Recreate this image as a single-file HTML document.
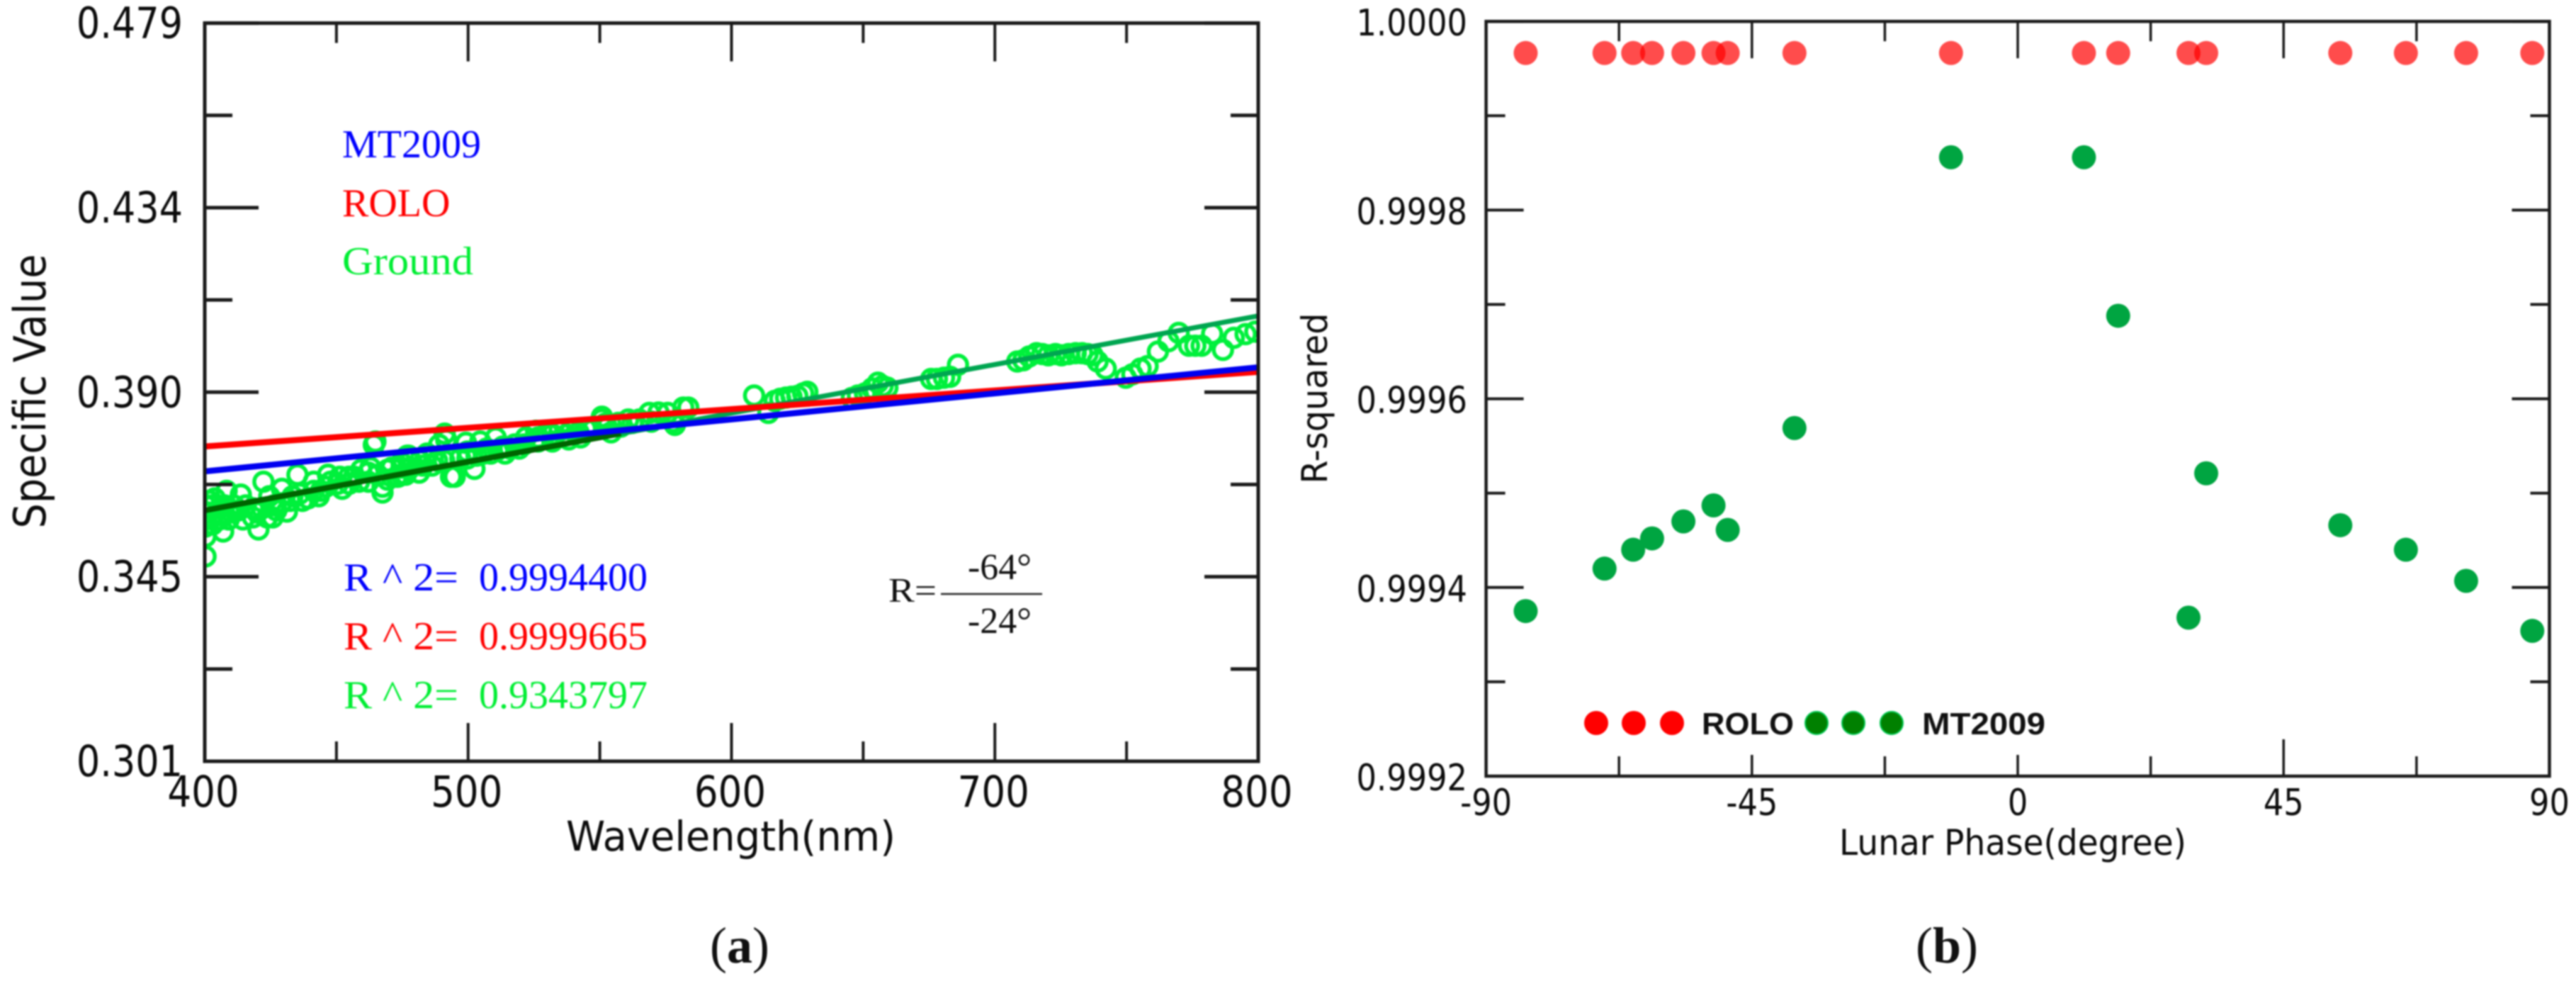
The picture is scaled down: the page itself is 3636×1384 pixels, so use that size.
<!DOCTYPE html>
<html lang="en">
<head>
<meta charset="utf-8">
<title>Specific value and R-squared charts</title>
<style>
html,body{margin:0;padding:0;background:#fff;width:3636px;height:1384px;overflow:hidden}
svg{display:block;filter:blur(1px)}
.sans{font-family:"DejaVu Sans","Liberation Sans",sans-serif;fill:#0c0c0c}
.serif{font-family:"Liberation Serif",serif}
</style>
</head>
<body>
<svg id="chart" xmlns="http://www.w3.org/2000/svg" width="3636" height="1384" viewBox="0 0 3636 1384">
  <defs>
    <clipPath id="plot-a-clip"><rect x="289" y="32" width="1488" height="1042"/></clipPath>
  </defs>
  <rect width="3636" height="1384" fill="#fff"/>

  <g id="panel-a">
    <g id="a-scatter" clip-path="url(#plot-a-clip)"></g>
    <g id="a-lines" clip-path="url(#plot-a-clip)"></g>
    <g id="a-axes"></g>
    <text class="sans" x="0" y="0" transform="translate(64,552) rotate(-90)" text-anchor="middle" font-size="62" textLength="387" lengthAdjust="spacingAndGlyphs">Specific Value</text>
    <text class="sans" x="799" y="1200" font-size="58" textLength="465" lengthAdjust="spacingAndGlyphs">Wavelength(nm)</text>

    <text class="serif" x="483" y="222" font-size="56" fill="#0000ff">MT2009</text>
    <text class="serif" x="483" y="305" font-size="56" fill="#ff0000">ROLO</text>
    <text class="serif" x="483" y="387" font-size="56" fill="#00ee33" textLength="185" lengthAdjust="spacingAndGlyphs">Ground</text>

    <text class="serif" x="485" y="833" font-size="56" fill="#0000ff" textLength="162" lengthAdjust="spacingAndGlyphs">R ^ 2=</text>
    <text class="serif" x="676" y="833" font-size="56" fill="#0000ff">0.9994400</text>
    <text class="serif" x="485" y="916" font-size="56" fill="#ff0000" textLength="162" lengthAdjust="spacingAndGlyphs">R ^ 2=</text>
    <text class="serif" x="676" y="916" font-size="56" fill="#ff0000">0.9999665</text>
    <text class="serif" x="485" y="999" font-size="56" fill="#00ee33" textLength="162" lengthAdjust="spacingAndGlyphs">R ^ 2=</text>
    <text class="serif" x="676" y="999" font-size="56" fill="#00ee33">0.9343797</text>

    <g>
      <text class="serif" x="1254" y="849" font-size="49" fill="#111" textLength="68" lengthAdjust="spacingAndGlyphs">R=</text>
      <text class="serif" x="1366" y="817" font-size="52" fill="#111" textLength="90" lengthAdjust="spacingAndGlyphs">-64°</text>
      <line x1="1328" x2="1471" y1="838" y2="838" stroke="#222" stroke-width="2.5"/>
      <text class="serif" x="1366" y="893" font-size="52" fill="#111" textLength="90" lengthAdjust="spacingAndGlyphs">-24°</text>
    </g>
    <text class="serif" x="1002" y="1358" font-size="72" fill="#111">(<tspan font-weight="bold">a</tspan>)</text>
  </g>

  <g id="panel-b">
    <g id="b-points"></g>
    <g id="b-axes"></g>
    <text class="sans" x="0" y="0" transform="translate(1873,562) rotate(-90)" text-anchor="middle" font-size="50" textLength="241" lengthAdjust="spacingAndGlyphs">R-squared</text>
    <text class="sans" x="2596" y="1206" font-size="50" textLength="490" lengthAdjust="spacingAndGlyphs">Lunar Phase(degree)</text>
    <g>
      <circle cx="2253" cy="1020" r="17" fill="#ff0000"/>
      <circle cx="2306" cy="1020" r="17" fill="#ff0000"/>
      <circle cx="2360" cy="1020" r="17" fill="#ff0000"/>
      <text x="2402" y="1036" font-family="'Liberation Sans',sans-serif" font-weight="bold" font-size="44" fill="#111" textLength="130" lengthAdjust="spacingAndGlyphs">ROLO</text>
      <circle cx="2564" cy="1020" r="16" fill="#008000" stroke="#00c850" stroke-width="2"/>
      <circle cx="2616" cy="1020" r="16" fill="#008000" stroke="#00c850" stroke-width="2"/>
      <circle cx="2670" cy="1020" r="16" fill="#008000" stroke="#00c850" stroke-width="2"/>
      <text x="2713" y="1036" font-family="'Liberation Sans',sans-serif" font-weight="bold" font-size="44" fill="#111" textLength="174" lengthAdjust="spacingAndGlyphs">MT2009</text>
    </g>
    <text class="serif" x="2704" y="1358" font-size="72" fill="#111">(<tspan font-weight="bold">b</tspan>)</text>
  </g>
</svg>

<script>
// Panel (a) data
var aXMajorTicks = [400, 500, 600, 700, 800];
var aXMinorTicks = [450, 550, 650, 750];
var aYMajorTicks = [0.301, 0.3455, 0.390, 0.4345, 0.479];
var aYMinorTicks = [0.32325, 0.36775, 0.41225, 0.45675];
var aYTickLabels = ["0.301", "0.345", "0.390", "0.434", "0.479"];
var aXTickLabels = ["400", "500", "600", "700", "800"];
var fitWavelengths = [400, 800];
var rolosFit = [0.3769, 0.3949];
var mt2009Fit = [0.3709, 0.3960];
var groundFit = [0.3615, 0.4084];
var groundDarkEnd = 558;
var groundWavelengths = [
400.3,400.3,401,401,403,401.6,405.6,409.1,405.6,411,403.8,407.5,415.6,414.5,421.8,426.3,423.7,432.5,436,441.4,
441.4,447.8,451.3,456.7,459.4,462.9,469.4,471,474.7,424.5,464.8,464.2,422.3,435.2,429.3,408.3,413.7,407,420.4,418.3,
425.8,431.2,439.2,444.1,452.2,467.5,467.5,446.8,454.8,462.1,472.8,477.4,
403,403,406.5,410.2,412.9,418.3,419.9,427.2,429,433.3,437.1,443.3,446,450.5,454.8,458.6,462.1,465.6,469.4,474.7,476.3,
400.3,400.3,400.3,
478.2,478.2,482.8,488.2,493.5,499.7,505.9,511.3,515.9,521.2,526.6,532,537.4,541.9,547.3,
491.1,489,491.7,499.2,504.6,510.5,494.9,493.5,502.4,481.4,476.9,473.4,514,486.3,497,503.2,508.6,517.7,
522,525.8,530.1,534.7,538.2,539.2,544.6,542.7,550.8,552.7,519.4,526.6,532,474.7,481.7,484.4,490.9,499.7,507,513.2,
550.8,554.3,552,557,560.8,565,568.8,572.3,575.8,578.5,581.7,583.6,577.7,569.6,562.4,558,
608.6,614,616.4,618.5,620.7,622.8,625,627.2,628.8,
645.7,648,650.7,653.4,655.6,657.4,659.2,675.8,678,680.7,683,686,708.5,
710.8,713,715.8,718,720.3,723,725.3,728,730.7,733.1,735.2,737.1,739,742.1,749.7,752.2,755.3,758,761.9,765.9,769.8,
773.7,776.1,778.5,782.5,786.6,790.7,795.2,798.9
];
var groundValues = [
.3504,.3552,.3581,.3610,.3627,.3638,.3593,.3593,.3620,.3627,.3644,.3627,.3627,.3593,.3620,.3627,.3598,.3638,.3655,.3662,
.3684,.3684,.3696,.3696,.3713,.3718,.3689,.3718,.3701,.3649,.3781,.3773,.3684,.3701,.3667,.3662,.3653,.3564,.3569,.3598,
.3598,.3612,.3644,.3662,.3667,.3658,.3672,.3701,.3696,.3706,.3696,.3747,
.3598,.3581,.3603,.3610,.3615,.3620,.3610,.3615,.3632,.3649,.3638,.3649,.3672,.3679,.3679,.3684,.3684,.3701,.3713,.3718,.3701,
.3627,.3593,.3576,
.3735,.3718,.3723,.3735,.3740,.3740,.3752,.3761,.3764,.3774,.3791,.3798,.3798,.3803,.3809,
.3800,.3773,.3785,.3778,.3781,.3790,.3696,.3696,.3715,.3706,.3747,.3696,.3752,.3723,.3740,.3747,.3752,.3774,
.3791,.3807,.3803,.3807,.3786,.3809,.3812,.3791,.3841,.3815,.3764,.3781,.3781,.3730,.3735,.3752,.3735,.3757,.3764,.3769,
.3834,.3803,.3824,.3826,.3834,.3834,.3850,.3851,.3850,.3821,.3863,.3863,.3829,.3829,.3826,.3817,
.3892,.3850,.3879,.3884,.3887,.3889,.3891,.3897,.3901,
.3886,.3892,.3897,.3909,.3923,.3915,.3911,.3932,.3932,.3935,.3937,.3966,.3974,
.3977,.3986,.3994,.3992,.3989,.3992,.3989,.3992,.3994,.3994,.3992,.3989,.3974,.3957,.3935,.3943,.3957,.3963,.3998,.4023,.4043,
.4012,.4012,.4012,.4041,.4002,.4031,.4040,.4046
];

// Panel (b) data
var bXMajorTicks = [-90, -45, 0, 45, 90];
var bXMinorTicks = [-67.5, -22.5, 22.5, 67.5];
var bYMajorTicks = [0.9992, 0.9994, 0.9996, 0.9998, 1.0];
var bYMinorTicks = [0.9993, 0.9995, 0.9997, 0.9999];
var bYTickLabels = ["0.9992", "0.9994", "0.9996", "0.9998", "1.0000"];
var bXTickLabels = ["-90", "-45", "0", "45", "90"];
var lunarPhases = [-83.3,-69.95,-65.1,-61.9,-56.6,-51.5,-49.1,-37.8,-11.3,11.2,17.0,28.9,31.9,54.6,65.7,75.9,87.1];
var roloR2 = [0.9999665,0.9999665,0.9999665,0.9999665,0.9999665,0.9999665,0.9999665,0.9999665,0.9999665,0.9999665,0.9999665,0.9999665,0.9999665,0.9999665,0.9999665,0.9999665,0.9999665];
var mt2009R2 = [0.999375,0.99942,0.99944,0.999452,0.99947,0.999487,0.999461,0.999569,0.999856,0.999856,0.999688,0.999368,0.999521,0.999466,0.99944,0.999407,0.999354];

var NS = "http://www.w3.org/2000/svg";
function make(tag, attrs, parent) {
  var el = document.createElementNS(NS, tag);
  for (var k in attrs) el.setAttribute(k, attrs[k]);
  parent.appendChild(el);
  return el;
}
function xA(w) { return 289 + (w - 400) * 3.7175; }
function yA(v) { return 1074 - (v - 0.301) * (1041.4 / 0.178); }
function xB(d) { return 2097.6 + (d + 90) * 8.3383; }
function yB(v) { return 1095 - (v - 0.9992) * 1331000; }

var aAxes = document.getElementById("a-axes");
var aScatter = document.getElementById("a-scatter");
var aLines = document.getElementById("a-lines");
var bAxes = document.getElementById("b-axes");
var bPoints = document.getElementById("b-points");

function tick(parent, x1, y1, x2, y2, w, name) {
  var t = make("line", {x1: x1, y1: y1, x2: x2, y2: y2, stroke: "#1a1a1a", "stroke-width": w}, parent);
  
  
}
function label(parent, str, x, y, size, sx, anchor, name) {
  var t = make("text", {"class": "sans", "font-size": size, "text-anchor": anchor,
    transform: "translate(" + x + "," + y + ") scale(" + sx + ",1)"}, parent);
  t.textContent = str;
  
  
}
function frame(parent, x, y, w, h, sw, name) {
  var r = make("rect", {x: x, y: y, width: w, height: h, fill: "none", stroke: "#1a1a1a", "stroke-width": sw}, parent);
  
  
}

// Panel (a) marks
groundWavelengths.forEach(function (w, i) {
  var c = make("circle", {cx: xA(w), cy: yA(groundValues[i]), r: 13, fill: "none", stroke: "#00f03c", "stroke-width": 5.5}, aScatter);
  
  
});
function fitLine(w1, v1, w2, v2, color, sw, name) {
  var l = make("line", {x1: xA(w1), y1: yA(v1), x2: xA(w2), y2: yA(v2), stroke: color, "stroke-width": sw}, aLines);
  
  
}
var groundSlope = (groundFit[1] - groundFit[0]) / (fitWavelengths[1] - fitWavelengths[0]);
var groundDarkValue = groundFit[0] + (groundDarkEnd - fitWavelengths[0]) * groundSlope;
fitLine(fitWavelengths[0], groundFit[0], fitWavelengths[1], groundFit[1], "#00a651", 7, "ground-fit-line");
fitLine(fitWavelengths[0], groundFit[0], groundDarkEnd, groundDarkValue, "#006400", 8, "ground-fit-line-dark");
fitLine(fitWavelengths[0], rolosFit[0], fitWavelengths[1], rolosFit[1], "#ff0000", 8.5, "rolo-fit-line");
fitLine(fitWavelengths[0], mt2009Fit[0], fitWavelengths[1], mt2009Fit[1], "#0000f0", 8.5, "mt2009-fit-line");

// Panel (a) axes
frame(aAxes, xA(400), yA(0.479), xA(800) - xA(400), yA(0.301) - yA(0.479), 5, "plot-frame-a");
aXMajorTicks.forEach(function (w, i) {
  tick(aAxes, xA(w), yA(0.479), xA(w), yA(0.479) + 54, 4, "x-major-tick-top-a");
  tick(aAxes, xA(w), yA(0.301), xA(w), yA(0.301) - 54, 4, "x-major-tick-bottom-a");
  label(aAxes, aXTickLabels[i], xA(w) - 2, 1138, 61, 0.87, "middle", "x-tick-label-a");
});
aXMinorTicks.forEach(function (w) {
  tick(aAxes, xA(w), yA(0.479), xA(w), yA(0.479) + 28, 4, "x-minor-tick-top-a");
  tick(aAxes, xA(w), yA(0.301), xA(w), yA(0.301) - 28, 4, "x-minor-tick-bottom-a");
});
aYMajorTicks.forEach(function (v, i) {
  tick(aAxes, xA(400), yA(v), xA(400) + 76, yA(v), 5, "y-major-tick-left-a");
  tick(aAxes, xA(800), yA(v), xA(800) - 76, yA(v), 5, "y-major-tick-right-a");
  label(aAxes, aYTickLabels[i], 258, yA(v) + 21, 61, 0.86, "end", "y-tick-label-a");
});
aYMinorTicks.forEach(function (v) {
  tick(aAxes, xA(400), yA(v), xA(400) + 39, yA(v), 5, "y-minor-tick-left-a");
  tick(aAxes, xA(800), yA(v), xA(800) - 39, yA(v), 5, "y-minor-tick-right-a");
});

// Panel (b) marks
lunarPhases.forEach(function (d, i) {
  var r = make("circle", {cx: xB(d), cy: yB(roloR2[i]), r: 17, fill: "#ff0000", "fill-opacity": 0.7}, bPoints);
  
  
});
lunarPhases.forEach(function (d, i) {
  var g = make("circle", {cx: xB(d), cy: yB(mt2009R2[i]), r: 17, fill: "#00a541"}, bPoints);
  
  
});

// Panel (b) axes
frame(bAxes, xB(-90), yB(1.0), xB(90) - xB(-90), yB(0.9992) - yB(1.0), 4.5, "plot-frame-b");
bXMajorTicks.forEach(function (d, i) {
  tick(bAxes, xB(d), yB(1.0), xB(d), yB(1.0) + 52, 3.5, "x-major-tick-top-b");
  tick(bAxes, xB(d), yB(0.9992), xB(d), yB(0.9992) - (d === 45 ? 52 : 30), 3.5, "x-major-tick-bottom-b");
  label(bAxes, bXTickLabels[i], xB(d), 1150, 52, 0.86, "middle", "x-tick-label-b");
});
bXMinorTicks.forEach(function (d) {
  tick(bAxes, xB(d), yB(1.0), xB(d), yB(1.0) + 28, 3.5, "x-minor-tick-top-b");
  tick(bAxes, xB(d), yB(0.9992), xB(d), yB(0.9992) - 28, 3.5, "x-minor-tick-bottom-b");
});
bYMajorTicks.forEach(function (v, i) {
  tick(bAxes, xB(-90), yB(v), xB(-90) + 53, yB(v), 4, "y-major-tick-left-b");
  tick(bAxes, xB(90), yB(v), xB(90) - 53, yB(v), 4, "y-major-tick-right-b");
  label(bAxes, bYTickLabels[i], 2071, yB(v) + 20, 52, 0.86, "end", "y-tick-label-b");
});
bYMinorTicks.forEach(function (v) {
  tick(bAxes, xB(-90), yB(v), xB(-90) + 27, yB(v), 4, "y-minor-tick-left-b");
  tick(bAxes, xB(90), yB(v), xB(90) - 27, yB(v), 4, "y-minor-tick-right-b");
});
</script>
</body>
</html>
